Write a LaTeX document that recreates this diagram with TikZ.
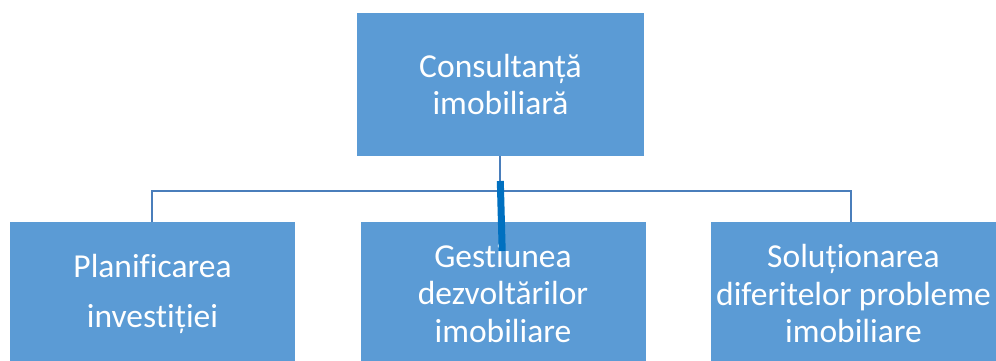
\documentclass[tikz,border=0pt]{standalone}
\usepackage{fontspec}
\setmainfont{Carlito}[Ligatures={NoCommon}]
\definecolor{boxblue}{HTML}{5B9BD5}
\definecolor{linkblue}{HTML}{4A7EBB}
\definecolor{thickblue}{HTML}{0070C0}
\begin{document}
\begin{tikzpicture}[x=1pt,y=-1pt,
  orgbox/.style={rectangle, fill=boxblue, draw=none, text=white,
    minimum width=285pt, minimum height=143pt, inner sep=0pt,
    align=center, font=\fontsize{33.5}{37.5}\selectfont},
  link/.style={draw=linkblue, line width=2.4pt},
  thickbar/.style={draw=thickblue, line width=7pt}]
\useasboundingbox (0,0) rectangle (996,360);
\clip (0,0) rectangle (996,360);
\fill[white] (0,0) rectangle (996,360);
\node[orgbox, minimum width=287pt] (top) at (500.5,84.5) {Consultanță\\imobiliară};
\node[orgbox] (left) at (152.5,293.5) {Planificarea\\[12.5pt]investiției};
\node[orgbox] (mid) at (503,293.5) {Gestiunea\\dezvoltărilor\\imobiliare};
\node[orgbox] (right) at (853.5,293.5) {Soluționarea\\diferitelor probleme\\imobiliare};
\coordinate (bus) at (500,191);
\coordinate (ltop) at (152,222);
\coordinate (rtop) at (851,222);
\draw[link] (top.south -| bus) -- (bus);
\draw[link] (ltop) |- (bus) -| (rtop);
\coordinate (tb1) at (500.3,181);
\coordinate (tb2) at (502.2,251);
\draw[thickbar] (tb1) -- (tb2);
\end{tikzpicture}
\end{document}
